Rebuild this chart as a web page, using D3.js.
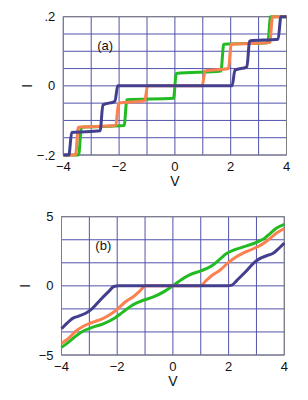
<!DOCTYPE html>
<html>
<head>
<meta charset="utf-8">
<script src="https://cdn.jsdelivr.net/npm/d3@7"></script>
<style>
  body { margin: 0; background: white; }
  svg text { font-family: "Liberation Sans", Arial, sans-serif; fill: #111; }
</style>
</head>
<body>
<svg width="308" height="400"></svg>
<script>
// panel (a): staircase I(V)
let navyA = [[-4, -0.2], [-3.8, -0.2], [-3.7, -0.135], [-2.68, -0.13], [-2.58, -0.055], [-2.15, -0.045],
  [-2.05, 0], [2.05, 0], [2.15, 0.045], [2.58, 0.055], [2.68, 0.13], [3.7, 0.135], [3.8, 0.2], [4, 0.2]]
let orangeA = [[-4, -0.2], [-3.56, -0.2], [-3.46, -0.12], [-2.12, -0.115], [-2.02, -0.05], [-1.08, -0.043],
  [-0.98, 0], [0.98, 0], [1.08, 0.043], [1.92, 0.05], [2.02, 0.12], [3.4, 0.125], [3.5, 0.2], [4, 0.2]]
let greenA = [[-4, -0.2], [-3.45, -0.2], [-3.35, -0.12], [-1.82, -0.115], [-1.72, -0.04], [-0.05, -0.036],
  [0.05, 0.036], [1.65, 0.043], [1.75, 0.12], [3.33, 0.125], [3.43, 0.2], [4, 0.2]]

// panel (b): smoothed I(V)
let navyB = [[-4, -3.1], [-3.8, -2.7], [-3.6, -2.35], [-3.4, -2.2], [-3.1, -1.95], [-2.9, -1.65], [-2.6, -1.0],
  [-2.3, -0.4], [-2.12, -0.05], [-1.95, 0], [1.95, 0], [2.12, 0.05], [2.3, 0.4], [2.6, 1.0], [2.9, 1.65],
  [3.1, 1.95], [3.4, 2.2], [3.6, 2.35], [3.8, 2.7], [4, 3.1]]
let orangeB = [[-4, -4.15], [-3.75, -3.8], [-3.5, -3.3], [-3.2, -2.9], [-2.9, -2.65], [-2.5, -2.35],
  [-2.2, -2.0], [-2.0, -1.7], [-1.7, -1.15], [-1.4, -0.75], [-1.2, -0.4], [-0.98, 0], [0.98, 0],
  [1.2, 0.4], [1.4, 0.75], [1.7, 1.15], [2.0, 1.7], [2.2, 2.0], [2.5, 2.35], [2.9, 2.7], [3.2, 3.0],
  [3.5, 3.45], [3.75, 3.85], [4, 4.15]]
let greenB = [[-4, -4.45], [-3.7, -4.0], [-3.5, -3.65], [-3.2, -3.25], [-2.9, -3.0], [-2.5, -2.75],
  [-2.1, -2.35], [-1.8, -1.9], [-1.5, -1.45], [-1.2, -1.15], [-0.7, -0.8], [-0.3, -0.4], [0, 0],
  [0.3, 0.45], [0.6, 0.8], [1.0, 1.08], [1.4, 1.45], [1.7, 1.95], [1.9, 2.3], [2.2, 2.6], [2.5, 2.8],
  [3.0, 3.15], [3.3, 3.45], [3.5, 3.8], [3.7, 4.15], [4, 4.45]]

let xTicks = [-4, -2, 0, 2, 4]
let xTickLabels = ["\u22124", "\u22122", "0", "2", "4"]
let yTicksA = [-0.2, 0, 0.2]
let yTickLabelsA = ["\u2212.2", "0", ".2"]
let yTicksB = [-5, 0, 5]
let yTickLabelsB = ["\u22125", "0", "5"]

let colors = { navy: "#433f8e", orange: "#fb8150", green: "#22bb22" }

let svg = d3.select("svg")

let panel = (opt) => {
  let x = d3.scaleLinear().domain([-4, 4]).range([opt.left, opt.right])
  let y = d3.scaleLinear().domain(opt.yDomain).range([opt.bottom, opt.top])
  let g = svg.append("g")

  // grid
  for (let v = -4; v <= 4; v++) {
    g.append("line")
      .attr("x1", x(v)).attr("x2", x(v))
      .attr("y1", opt.top).attr("y2", opt.bottom)
      .style("stroke", "#5252ab").style("stroke-width", 1)
  }
  for (let i = 0; i <= opt.yDiv; i++) {
    let v = opt.yDomain[0] + i * (opt.yDomain[1] - opt.yDomain[0]) / opt.yDiv
    g.append("line")
      .attr("x1", opt.left).attr("x2", opt.right)
      .attr("y1", y(v)).attr("y2", y(v))
      .style("stroke", "#5252ab").style("stroke-width", 1)
  }

  // frame
  g.append("rect")
    .attr("x", opt.left).attr("y", opt.top)
    .attr("width", opt.right - opt.left).attr("height", opt.bottom - opt.top)
    .style("fill", "none").style("stroke", "#808080").style("stroke-width", 1)

  // curves
  let line = d3.line().x(d => x(d[0])).y(d => y(d[1])).curve(d3.curveMonotoneX)
  opt.series.forEach(s => {
    g.append("path")
      .datum(s.data)
      .attr("d", line)
      .style("fill", "none")
      .style("stroke", s.color)
      .style("stroke-width", 3)
      .style("stroke-linejoin", "round")
  })

  // tick labels
  xTicks.forEach((t, i) => {
    g.append("text")
      .attr("x", x(t)).attr("y", opt.bottom + 16)
      .attr("text-anchor", "middle")
      .style("font-size", "13px")
      .text(xTickLabels[i])
  })
  opt.yTicks.forEach((t, i) => {
    g.append("text")
      .attr("x", opt.left - 8).attr("y", y(t) + 4.5)
      .attr("text-anchor", "end")
      .style("font-size", "13px")
      .text(opt.yLabels[i])
  })

  // axis titles
  g.append("text")
    .attr("x", x(0)).attr("y", opt.bottom + 31)
    .attr("text-anchor", "middle")
    .style("font-size", "14px")
    .text("V")
  g.append("text")
    .attr("transform", `translate(${opt.left - 36},${y(0)}) rotate(-90)`)
    .attr("text-anchor", "middle")
    .attr("dy", "0.35em")
    .style("font-size", "14px")
    .text("I")

  g.append("text")
    .attr("x", x(-2.5)).attr("y", opt.top + 33)
    .attr("text-anchor", "middle")
    .style("font-size", "13px")
    .text(opt.tag)
}

panel({
  left: 63.3, right: 286.5, top: 16.7, bottom: 155,
  yDomain: [-0.2, 0.2], yDiv: 8, yTicks: yTicksA, yLabels: yTickLabelsA, tag: "(a)",
  series: [
    { data: greenA, color: colors.green },
    { data: orangeA, color: colors.orange },
    { data: navyA, color: colors.navy }
  ]
})

panel({
  left: 61.5, right: 284.3, top: 216.7, bottom: 355,
  yDomain: [-5, 5], yDiv: 6, yTicks: yTicksB, yLabels: yTickLabelsB, tag: "(b)",
  series: [
    { data: greenB, color: colors.green },
    { data: orangeB, color: colors.orange },
    { data: navyB, color: colors.navy }
  ]
})
</script>
</body>
</html>
